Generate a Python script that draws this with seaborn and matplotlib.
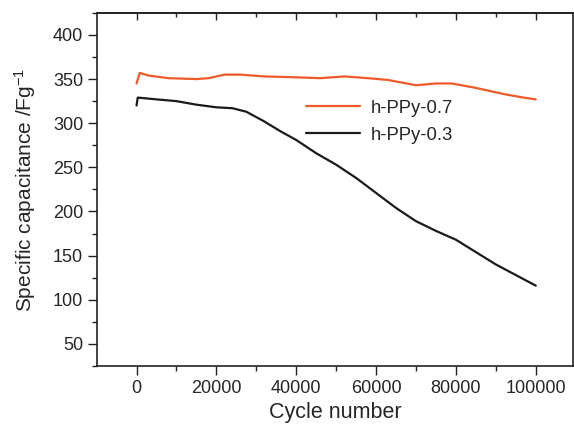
import numpy as np
import pandas as pd
import matplotlib
matplotlib.use("Agg")
import matplotlib.pyplot as plt
import seaborn as sns
from matplotlib.ticker import MultipleLocator

# values
cycles_07 = [0, 800, 3000, 8000, 15000, 18000, 22000, 26000, 32000, 40000, 46000,
             52000, 58000, 63000, 70000, 75000, 79000, 85000, 92000, 97000, 100000]
cap_07 = [345, 357, 354, 351, 350, 351, 355, 355, 353, 352, 351,
          353, 351, 349, 343, 345, 345, 340, 333, 329, 327]

cycles_03 = [0, 300, 5000, 10000, 15000, 20000, 24000, 27500, 32000, 36000, 40000,
             45000, 50000, 55000, 60000, 65000, 70000, 75000, 80000, 85000, 90000,
             95000, 100000]
cap_03 = [320, 329, 327, 325, 321, 318, 317, 313, 302, 291, 281,
          266, 253, 238, 221, 204, 189, 178, 168, 154, 140, 128, 116]

df07 = pd.DataFrame({"cycle": cycles_07, "cap": cap_07})
df03 = pd.DataFrame({"cycle": cycles_03, "cap": cap_03})

sns.set_style("ticks")
plt.rcParams["font.family"] = ["Liberation Sans", "DejaVu Sans"]
plt.rcParams["mathtext.default"] = "regular"

fig = plt.figure(figsize=(5.74, 4.29), dpi=100)
ax = fig.add_axes([0.169, 0.147, 0.829, 0.823])

sns.lineplot(data=df07, x="cycle", y="cap", ax=ax, color="#f05a28", lw=1.6,
             label="h-PPy-0.7")
sns.lineplot(data=df03, x="cycle", y="cap", ax=ax, color="#1a1a1a", lw=1.6,
             label="h-PPy-0.3")

ax.set_xlim(-9900, 109300)
ax.set_ylim(25, 425)
ax.xaxis.set_major_locator(MultipleLocator(20000))
ax.xaxis.set_minor_locator(MultipleLocator(10000))
ax.set_yticks(range(50, 401, 50))
ax.yaxis.set_minor_locator(MultipleLocator(25))

ax.tick_params(axis="both", which="both", direction="out", labelsize=13,
               color="#222222", width=1, right=False, top=False)
ax.tick_params(which="major", length=6.5)
ax.tick_params(which="minor", length=3.5)

# inward ticks along the top edge
top = ax.secondary_xaxis("top")
top.xaxis.set_major_locator(MultipleLocator(20000))
top.xaxis.set_minor_locator(MultipleLocator(10000))
top.tick_params(which="both", direction="in", labeltop=False, color="#222222",
                width=1)
top.tick_params(which="major", length=5)
top.tick_params(which="minor", length=3)
top.spines["top"].set_linewidth(1.2)
top.spines["top"].set_color("#222222")

for side in ["top", "right", "left", "bottom"]:
    ax.spines[side].set_color("#222222")
    ax.spines[side].set_linewidth(1.2)

ax.set_xlabel("Cycle number", fontsize=15.5, labelpad=4)
ax.set_ylabel("Specific capacitance /Fg$^{-1}$", fontsize=15, labelpad=11)

ax.legend(loc="upper left", bbox_to_anchor=(0.42, 0.78), frameon=False,
          fontsize=13.3, handlelength=2.9, handletextpad=0.6, labelspacing=0.55,
          borderpad=0)

fig.savefig("out.png", dpi=100)
